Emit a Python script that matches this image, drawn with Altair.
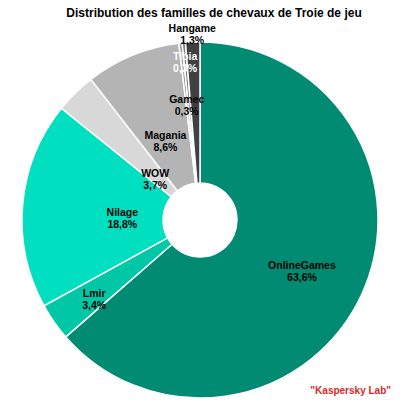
import altair as alt
import pandas as pd

families = ["OnlineGames", "Lmir", "Nilage", "WOW", "Magania", "Gamec", "Tibia", "Hangame"]
shares = [63.6, 3.4, 18.8, 3.7, 8.6, 0.3, 0.3, 1.3]

colors = ["#008B72", "#00C8A6", "#00DFBF", "#D8D8D8", "#B4B4B4", "#A0A0A0", "#7C7C7C", "#404040"]
label_radius = {"OnlineGames": 112, "Lmir": 129, "Nilage": 78, "WOW": 64,
                "Magania": 91, "Gamec": 121, "Tibia": 164, "Hangame": 191}

df = pd.DataFrame({
    "family": families,
    "value": shares,
    "ord": list(range(len(families))),
})
df["label"] = [f"{f}\n{str(v).replace('.', ',')}%" for f, v in zip(families, shares)]
df["lr"] = [label_radius[f] for f in families]

CX, CY = 192, 212
FONT = "Arial, Liberation Sans"
TOTAL = sum(shares)

base = alt.Chart(df)

arcs = base.mark_arc(outerRadius=178, innerRadius=37, stroke="white", strokeWidth=1.5).encode(
    theta=alt.Theta("value:Q", stack=True),
    order=alt.Order("ord:Q"),
    color=alt.Color("family:N", scale=alt.Scale(domain=families, range=colors), legend=None),
    x=alt.value(CX), y=alt.value(CY),
)

labels = base.transform_window(
    cum="sum(value)", sort=[alt.SortField("ord")]
).transform_calculate(
    mid="datum.cum - datum.value / 2"
).mark_text(font=FONT, fontSize=10.5, fontWeight="bold", lineBreak="\n",
            lineHeight=12, baseline="middle", align="center").encode(
    theta=alt.Theta("mid:Q", stack=None, scale=alt.Scale(domain=[0, TOTAL], range=[0, 6.283185307])),
    radius=alt.Radius("lr:Q", scale=None),
    text="label:N",
    color=alt.condition(alt.datum.family == "Tibia", alt.value("white"), alt.value("black")),
    x=alt.value(CX), y=alt.value(CY),
)

title = alt.Chart(alt.Data(values=[{}])).mark_text(
    font=FONT, fontSize=12, fontWeight="bold", baseline="top", align="center"
).encode(x=alt.value(206), y=alt.value(0),
         text=alt.value("Distribution des familles de chevaux de Troie de jeu"))

credit = alt.Chart(alt.Data(values=[{}])).mark_text(
    font=FONT, fontSize=10, fontWeight="bold", baseline="middle", align="right", color="#D42A2A"
).encode(x=alt.value(383), y=alt.value(383), text=alt.value('"Kaspersky Lab"'))

chart = alt.layer(arcs, labels, title, credit).properties(
    width=384, height=392, padding=0, autosize="none"
).configure_view(stroke=None)

chart.save("out.html", embed_options={"renderer": "svg", "actions": False})
